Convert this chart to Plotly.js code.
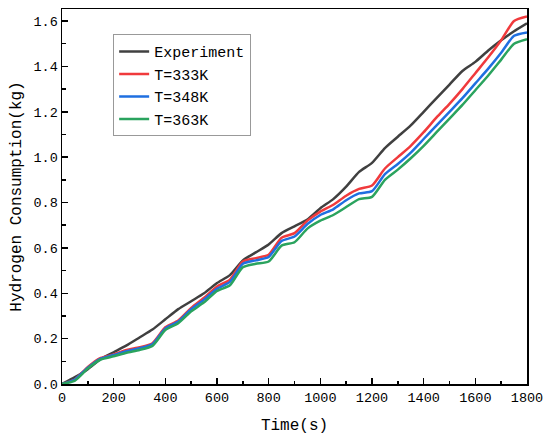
<!DOCTYPE html>
<html>
<head>
<meta charset="utf-8">
<script src="https://cdn.plot.ly/plotly-3.0.1.min.js"></script>
<style>html,body{margin:0;padding:0;background:#fff;}#chart{width:550px;height:441px;}</style>
</head>
<body>
<div id="chart"></div>
<script>
const time = [0, 50, 100, 150, 200, 250, 300, 350, 400, 450, 500, 550, 600, 650, 700, 750, 800, 850, 900, 950, 1000, 1050, 1100, 1150, 1200, 1250, 1300, 1350, 1400, 1450, 1500, 1550, 1600, 1650, 1700, 1750, 1800];
const experiment = [0, 0.03, 0.065, 0.11, 0.14, 0.17, 0.205, 0.24, 0.285, 0.33, 0.365, 0.40, 0.445, 0.48, 0.545, 0.58, 0.615, 0.665, 0.695, 0.725, 0.775, 0.815, 0.87, 0.935, 0.975, 1.04, 1.09, 1.14, 1.20, 1.26, 1.32, 1.38, 1.42, 1.47, 1.515, 1.555, 1.59];
const t333 = [0, 0.02, 0.075, 0.115, 0.13, 0.15, 0.162, 0.18, 0.25, 0.28, 0.335, 0.38, 0.43, 0.46, 0.54, 0.555, 0.57, 0.645, 0.665, 0.72, 0.76, 0.79, 0.83, 0.86, 0.875, 0.95, 1.0, 1.05, 1.11, 1.175, 1.235, 1.30, 1.37, 1.44, 1.515, 1.60, 1.62];
const t348 = [0, 0.02, 0.072, 0.112, 0.128, 0.145, 0.158, 0.175, 0.245, 0.275, 0.33, 0.372, 0.42, 0.45, 0.53, 0.545, 0.56, 0.63, 0.65, 0.705, 0.745, 0.77, 0.81, 0.84, 0.85, 0.925, 0.97, 1.02, 1.08, 1.14, 1.20, 1.26, 1.325, 1.39, 1.46, 1.535, 1.55];
const t363 = [0, 0.015, 0.068, 0.108, 0.122, 0.138, 0.15, 0.168, 0.238, 0.268, 0.32, 0.36, 0.41, 0.435, 0.515, 0.53, 0.54, 0.61, 0.625, 0.685, 0.72, 0.745, 0.78, 0.815, 0.825, 0.90, 0.945, 0.995, 1.05, 1.11, 1.17, 1.23, 1.295, 1.36, 1.43, 1.50, 1.52];
const names = ['Experiment', 'T=333K', 'T=348K', 'T=363K'];
const colors = ['#404040', '#f03a3c', '#1f6fe0', '#2aa35e'];
const series = [experiment, t333, t348, t363];

const traces = series.map((s, i) => ({
  x: time, y: s, name: names[i], type: 'scatter', mode: 'lines',
  line: {color: colors[i], width: 2.5, shape: 'spline', smoothing: 0.6}
}));

const font = 'Liberation Mono, monospace';
const axisCommon = {
  showline: true, linecolor: '#000', linewidth: 1.5, mirror: true,
  ticks: 'inside', ticklen: 6, tickwidth: 1.5, tickcolor: '#000',
  showgrid: false, zeroline: false,
  tickfont: {family: font, size: 13.5, color: '#000'},
  minor: {ticks: 'inside', ticklen: 3.5, tickwidth: 1.5, tickcolor: '#000', showgrid: false}
};

const layout = {
  width: 550, height: 441,
  margin: {l: 62, r: 23, t: 9, b: 57},
  paper_bgcolor: '#fff', plot_bgcolor: '#fff',
  font: {family: font, color: '#000'},
  xaxis: Object.assign({}, axisCommon, {
    range: [0, 1800], dtick: 200, tick0: 0,
    minor: Object.assign({}, axisCommon.minor, {dtick: 100}),
    title: {text: 'Time(s)', font: {family: font, size: 16, color: '#000'}, standoff: 14}
  }),
  yaxis: Object.assign({}, axisCommon, {
    range: [0, 1.653], dtick: 0.2, tick0: 0, tickformat: '.1f',
    minor: Object.assign({}, axisCommon.minor, {dtick: 0.1}),
    title: {text: 'Hydrogen Consumption(kg)', font: {family: font, size: 16, color: '#000'}, standoff: 8}
  }),
  showlegend: true,
  legend: {
    x: 0.110, y: 0.933, xanchor: 'left', yanchor: 'top',
    bgcolor: '#fff', bordercolor: '#999', borderwidth: 1,
    font: {family: font, size: 15, color: '#000'}
  }
};

Plotly.newPlot('chart', traces, layout, {displayModeBar: false, staticPlot: true});
</script>
</body>
</html>
